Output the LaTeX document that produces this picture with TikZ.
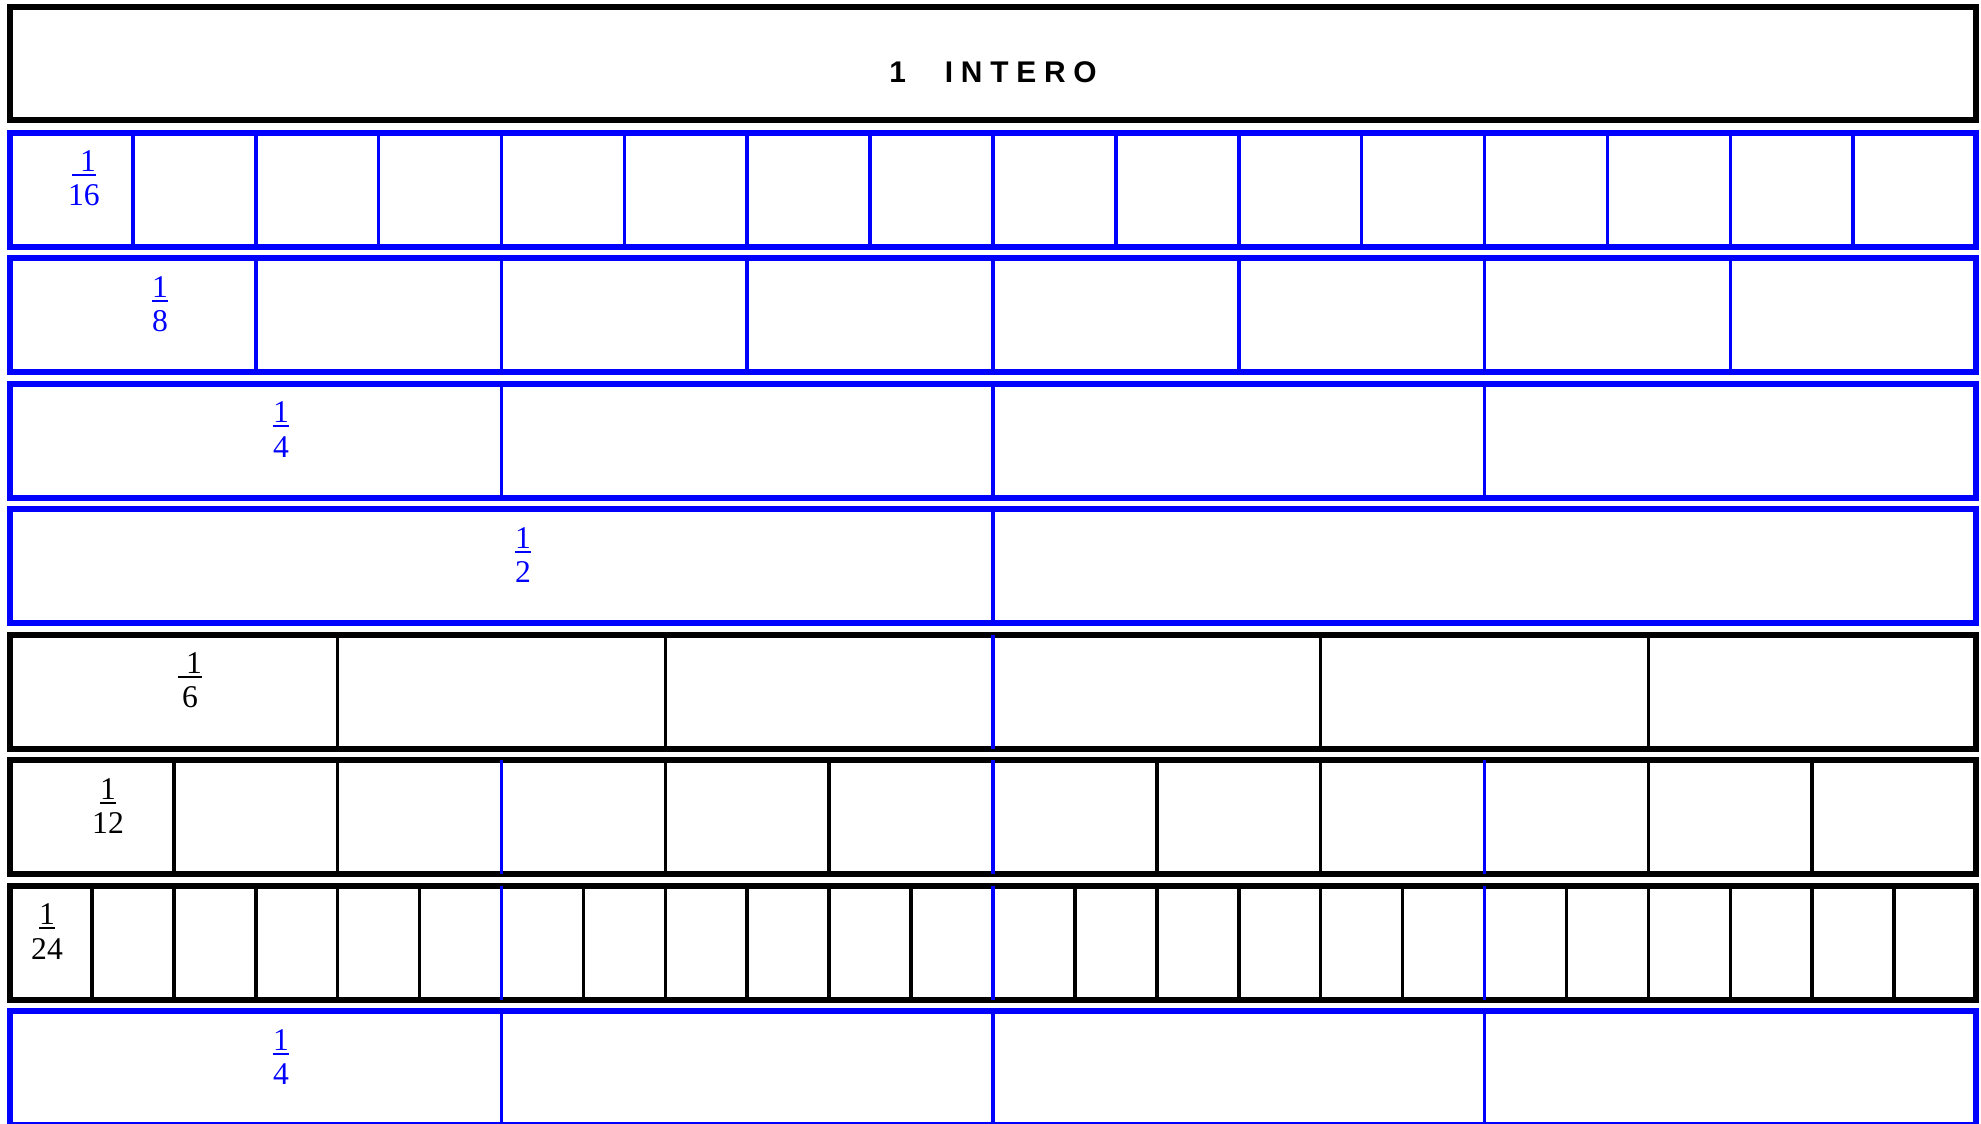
\documentclass[tikz,border=0pt]{standalone}
\usepackage{fontspec}
\setmainfont{Liberation Serif}
\newfontfamily\titlefont{Liberation Sans}
\usepackage{tikz}
\definecolor{stripblue}{HTML}{0000FF}
\newcommand\barone[1]{\makebox[#1][r]{1}\llap{\rule[-1.3pt]{#1}{0.6pt}}}
\tikzset{
  strip frame/.style={line width=1.7pt},
  strip cut/.style={line width=1pt},
  strip label/.style={inner sep=0pt,align=center,font=\fontsize{9}{9.7}\selectfont},
  strip title/.style={inner sep=0pt,anchor=base,font=\titlefont\bfseries\fontsize{8.5}{10}\selectfont}
}

\begin{document}
\begin{tikzpicture}[x=0.01cm,y=-0.01cm]
  \clip (0,0) rectangle (1981,1123);
  \fill[white] (0,0) rectangle (1981,1123);
  \draw[strip frame] (10,7) rectangle (1976,120);
  \node[strip title] (whole) at (993,82)
    {1\hspace{1.3em}I\hspace{.26em}N\hspace{.26em}T\hspace{.26em}E\hspace{.26em}R\hspace{.26em}O};
  \foreach \k/\n/\c/\lx/\bw in {1/16/stripblue/84/.75em,2/8/stripblue/160/.5em,3/4/stripblue/281/.5em,
      4/2/stripblue/523/.5em,5/6/black/190/.75em,6/12/black/108/.5em,7/24/black/47/.5em,8/4/stripblue/281/.5em}{
    \pgfmathsetmacro\rowtop{4+125.5*\k}
    \draw[strip frame,\c] (10,\rowtop+3) rectangle (1976,\rowtop+117);
    \pgfmathtruncatemacro\m{\n-1}
    \foreach \i in {1,...,\m}{
      \pgfmathsetmacro\xx{10+1966/\n*\i}
      \pgfmathtruncatemacro\q{mod(\i*4,\n)}
      \ifnum\q=0 \def\cc{stripblue}\else\def\cc{\c}\fi
      \draw[strip cut,\cc] (\xx,\rowtop+3) -- (\xx,\rowtop+117);
    }
    \node[strip label,text=\c] (part\k) at (\lx,\rowtop+49) {\barone{\bw}\\\n};
  }
\end{tikzpicture}
\end{document}
